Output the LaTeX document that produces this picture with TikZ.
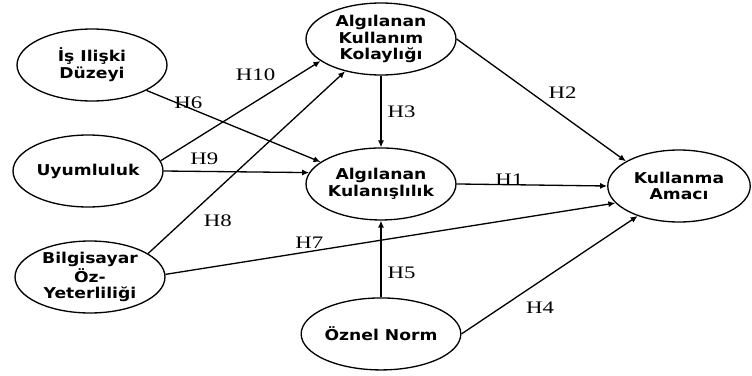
\documentclass[tikz,border=0pt]{standalone}
\usepackage{fontspec}
\usepackage{tikz}
\usetikzlibrary{shapes.geometric,arrows.meta,positioning}
\newfontfamily\varfont[FakeStretch=1.15]{DejaVu Sans}
\newfontfamily\hypfont[FakeStretch=1.3]{Liberation Serif}

\begin{document}
\begin{tikzpicture}[x=0.02cm,y=-0.02cm,on grid,line width=0.75pt,
  >={Latex[length=4pt,width=3.5pt]},
  var/.style={ellipse,draw,minimum width=3cm,minimum height=1.44cm,inner sep=0pt,
    align=center,font=\varfont\bfseries\fontsize{8.5}{9.5}\selectfont},
  hyp/.style={font=\hypfont\fontsize{10}{12}\selectfont}]
\useasboundingbox (0,0) rectangle (752,376);
\node[var] (is) at (92,65) {İş Ilişki\\Düzeyi};
\node[var] (uyum) at (88,171) {Uyumluluk};
\node[var] (bilg) at (90,277) {Bilgisayar\\Öz-\\Yeterliliği};
\node[var] (akk) at (381,39) {Algılanan\\Kullanım\\Kolaylığı};
\node[var] (ak) [below=2.9cm of akk] {Algılanan\\Kulanışlılık};
\node[var] (on) [below=3cm of ak] {Öznel Norm};
\node[var,minimum width=2.85cm] (ka) at (679,186) {Kullanma\\Amacı};
 \path[->]
(uyum.8) edge node[hyp,pos=.75,above left=-1pt] {H10} (akk.200)
(is.335) edge node[hyp,pos=.24,yshift=3pt] {H6} (ak.160)
(uyum.east) edge node[hyp,pos=.28,above] {H9} (ak.171)
(bilg.22) edge node[hyp,pos=.25,below right] {H8} (akk.222)
(bilg.2) edge node[hyp,pos=.32,above=-2pt] {H7} (ka.195)
(akk) edge node[hyp,right] {H3} (ak)
(akk.east) edge node[hyp,pos=.52,above right=-2pt] {H2} (ka.155)
(ak.east) edge node[hyp,pos=.35,above=-1pt,inner sep=0pt] {H1} (ka.west)
(on) edge node[hyp,pos=.32,right] {H5} (ak)
(on.east) edge node[hyp,pos=.33,below right] {H4} (ka.216);
\end{tikzpicture}
\end{document}
